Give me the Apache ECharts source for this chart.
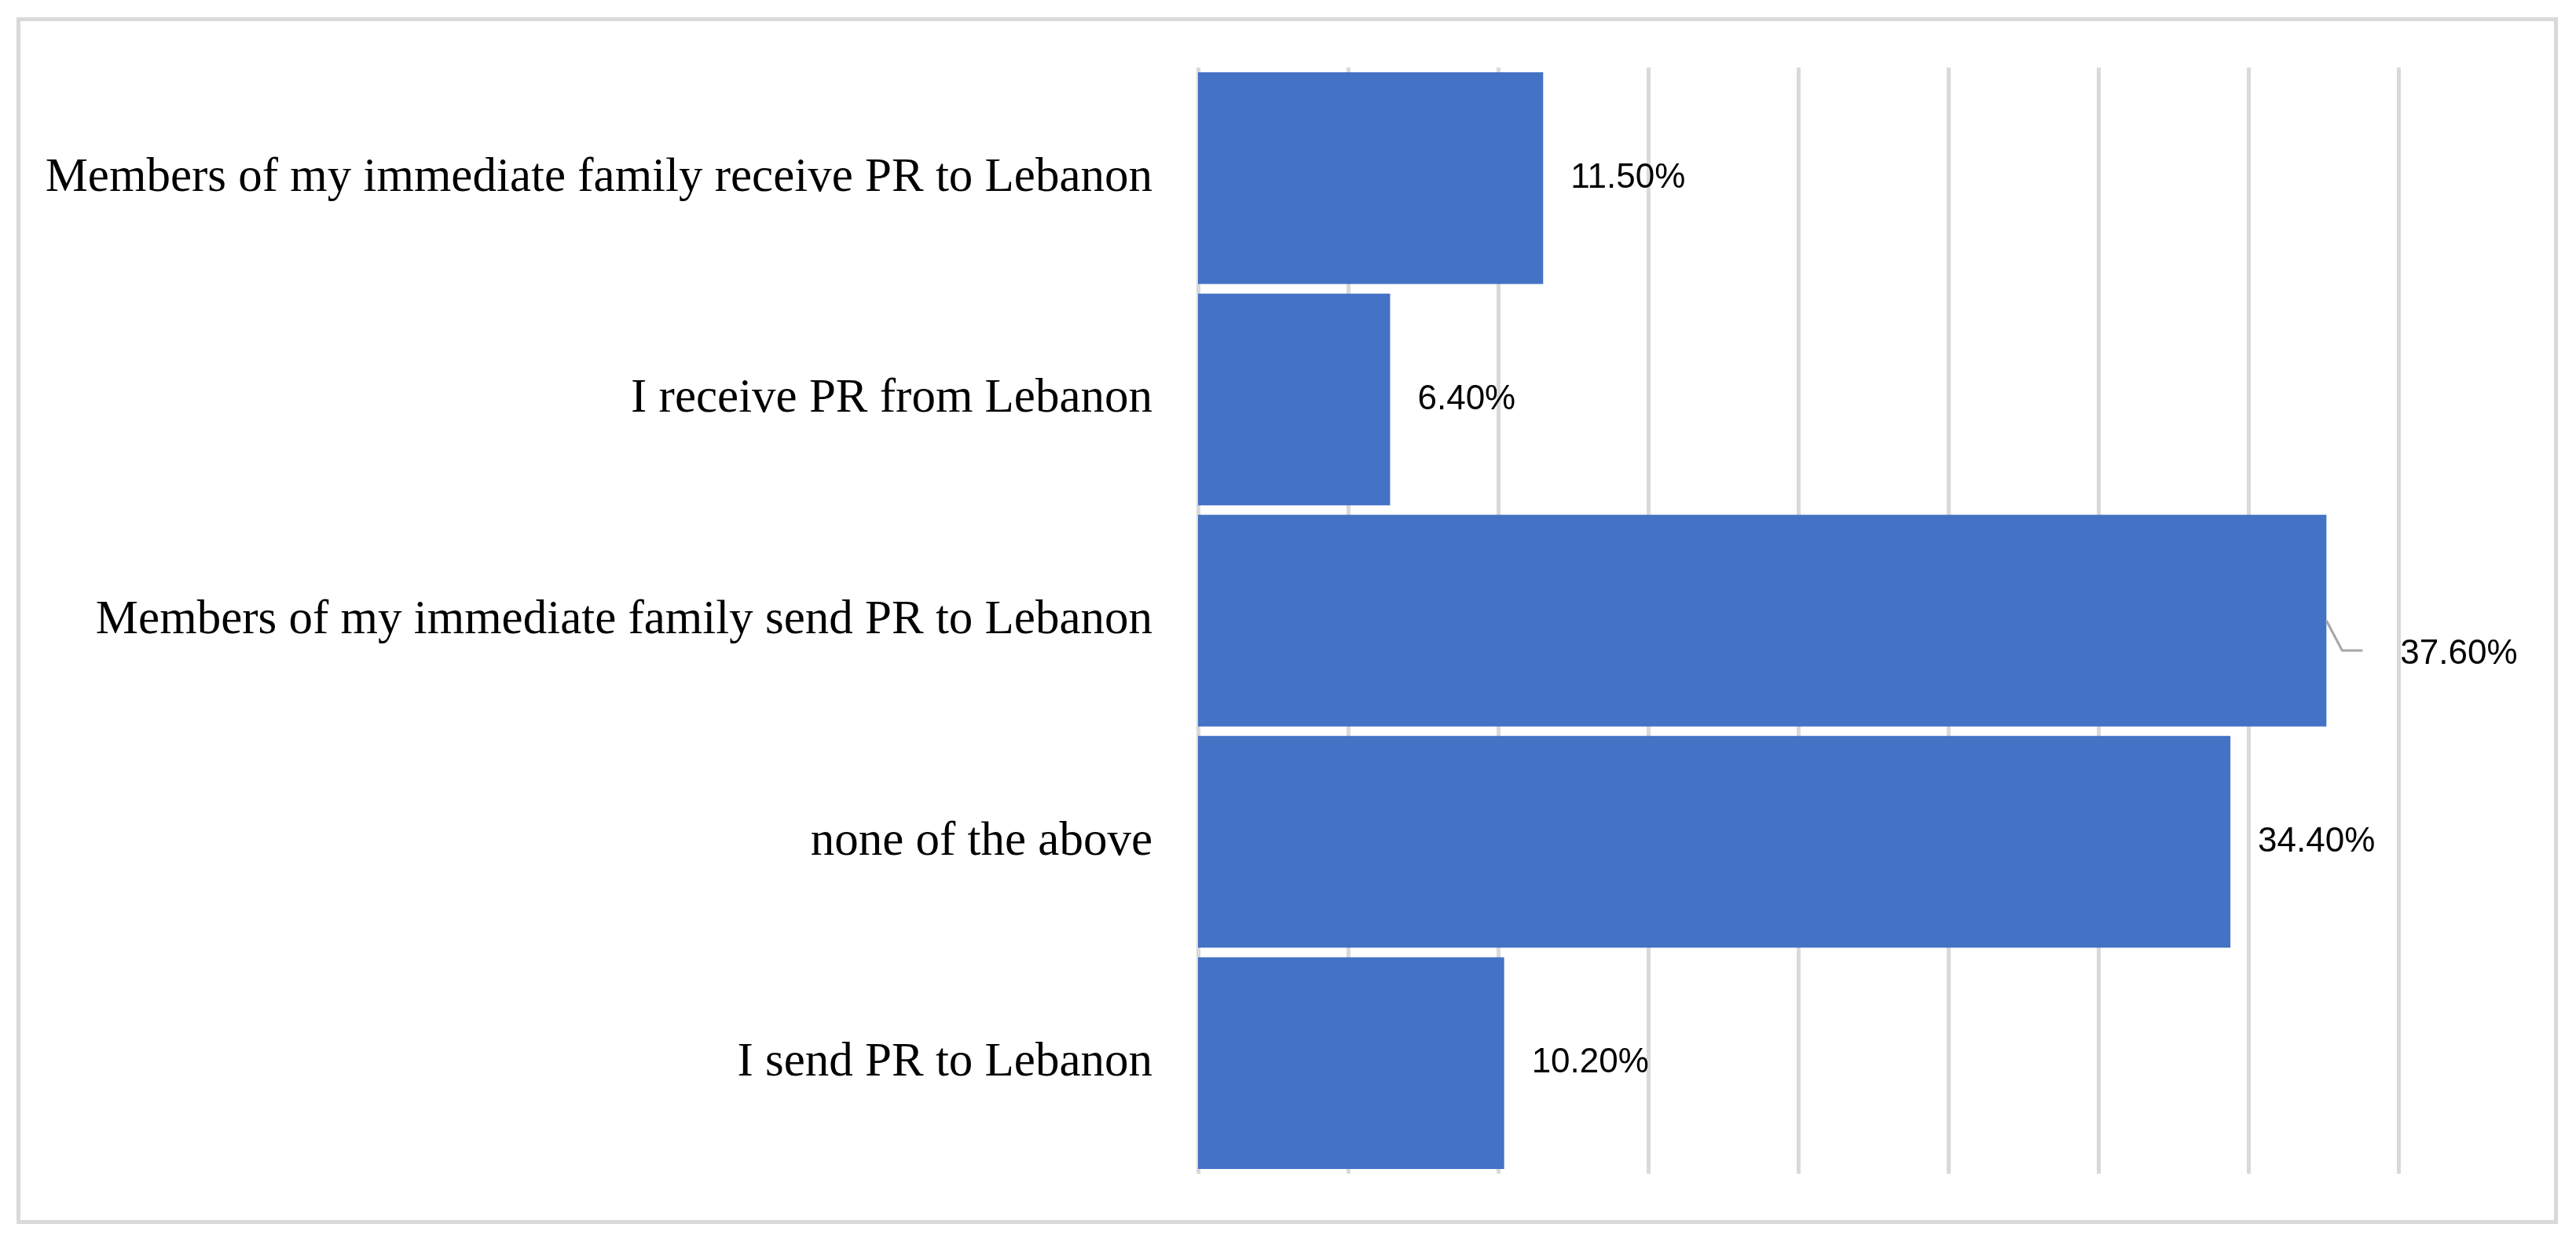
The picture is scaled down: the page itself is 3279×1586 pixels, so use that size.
<!DOCTYPE html>
<html>
<head>
<meta charset="utf-8">
<script src="https://cdn.jsdelivr.net/npm/echarts@6/dist/echarts.min.js"></script>
<style>
html,body{margin:0;padding:0;background:#fff;}
#chart{width:3279px;height:1586px;}
</style>
</head>
<body>
<div id="chart"></div>
<script>
const categories = [
  "Members of my immediate family receive PR to Lebanon",
  "I receive PR from Lebanon",
  "Members of my immediate family send PR to Lebanon",
  "none of the above",
  "I send PR to Lebanon"
];
const values = [11.5, 6.4, 37.6, 34.4, 10.2];
const valueLabels = ["11.50%", "6.40%", "37.60%", "34.40%", "10.20%"];
const axisMin = 0, axisMax = 40, axisStep = 5;
const movedLabelIndex = 2;

const chart = echarts.init(document.getElementById('chart'), null, {renderer: 'canvas'});
chart.setOption({
  animation: false,
  backgroundColor: '#ffffff',
  graphic: [{
    type: 'rect',
    shape: {x: 23.5, y: 24.5, width: 3230, height: 1531},
    style: {fill: 'none', stroke: '#d9d9d9', lineWidth: 5},
    silent: true, z: 0
  }],
  grid: {left: 1525, right: 226, top: 86, bottom: 92, containLabel: false},
  xAxis: {
    type: 'value', min: axisMin, max: axisMax, interval: axisStep,
    axisLabel: {show: false}, axisTick: {show: false}, axisLine: {show: false},
    splitLine: {show: true, lineStyle: {color: '#d9d9d9', width: 5}}
  },
  yAxis: {
    type: 'category', data: categories, inverse: true,
    axisLine: {show: false}, axisTick: {show: false},
    axisLabel: {margin: 58, color: '#000', fontFamily: 'Liberation Serif', fontSize: 61}
  },
  series: [{
    type: 'bar',
    data: values,
    barCategoryGap: '4.3%',
    itemStyle: {color: '#4472C4'},
    label: {
      show: true, position: 'right', distance: 35,
      color: '#000', fontFamily: 'Liberation Sans', fontSize: 44,
      formatter: p => valueLabels[p.dataIndex]
    },
    labelLayout: function (params) {
      if (params.dataIndex === movedLabelIndex) {
        return {dx: 59, dy: 43};
      }
      return {};
    }
  }, {
    type: 'custom',
    data: [[values[movedLabelIndex], movedLabelIndex]],
    encode: {x: 0, y: 1},
    z: 5,
    silent: true,
    renderItem: function (params, api) {
      const p = api.coord([api.value(0), api.value(1)]);
      return {
        type: 'polyline',
        shape: {points: [[p[0], p[1]], [p[0] + 20, p[1] + 38], [p[0] + 46, p[1] + 38]]},
        style: {stroke: '#a6a6a6', lineWidth: 3, fill: 'none'}
      };
    }
  }]
});
</script>
</body>
</html>
